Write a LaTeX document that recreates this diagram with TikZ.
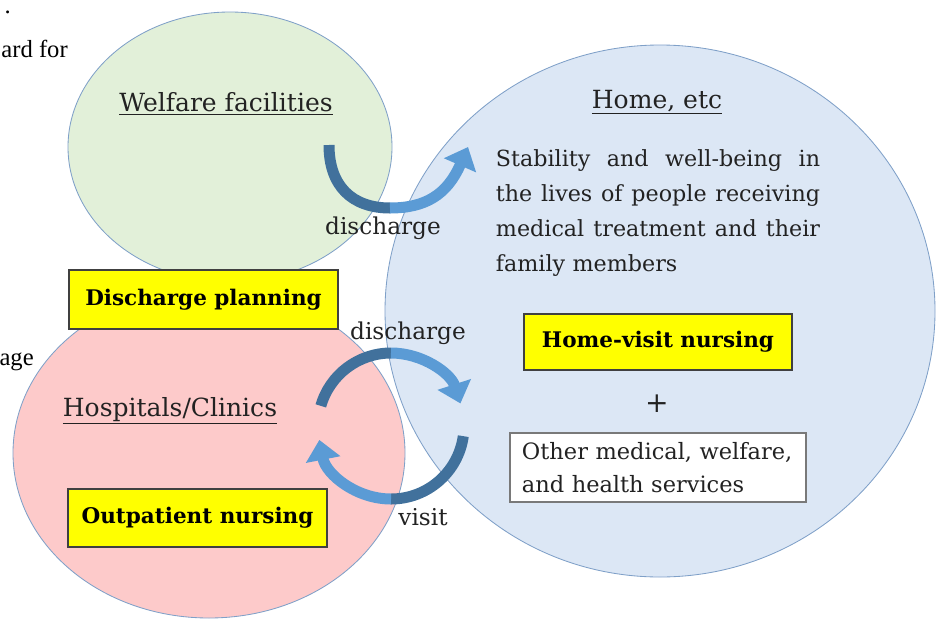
\documentclass[tikz,border=0pt]{standalone}
\usepackage{fontspec}
\setmainfont{DejaVu Serif}
\newfontfamily\pagefont{Liberation Serif}
\usetikzlibrary{arrows.meta}

\definecolor{welfgreen}{HTML}{E2F0D9}
\definecolor{hospred}{HTML}{FDCACA}
\definecolor{homeblue}{HTML}{DCE7F5}
\definecolor{rimblue}{HTML}{7FA0C8}
\definecolor{arrowdark}{HTML}{41719C}
\definecolor{arrowlight}{HTML}{5B9BD5}
\definecolor{taskyellow}{HTML}{FFFF00}
\definecolor{boxline}{HTML}{404040}
\definecolor{inktext}{HTML}{222222}

\newcommand{\spreadline}[1]{\makebox[8.1cm][s]{\spaceskip=0.32em plus 1em #1}}

\tikzset{
  area/.style={draw=rimblue, line width=0.6pt},
  pagetext/.style={font=\pagefont\fontsize{17.5}{20}\selectfont, inner sep=0pt, anchor=base east},
  heading/.style={font=\fontsize{17.8}{20}\selectfont, text=inktext, inner sep=0pt},
  flowlabel/.style={font=\fontsize{16.5}{19}\selectfont, text=inktext, inner sep=0pt},
  taskbox/.style={draw=boxline, fill=taskyellow, line width=0.8pt, inner sep=0pt,
    font=\fontsize{15.3}{18}\selectfont\bfseries},
  otherbox/.style={draw=boxline!70, fill=white, line width=0.8pt, inner xsep=0.3cm,
    minimum width=7.4cm, minimum height=1.725cm, text width=6.8cm, align=left,
    font=\fontsize{16}{24}\selectfont, text=inktext},
  darkflow/.style={draw=arrowdark, line width=0.275cm},
  lightflow/.style={draw=arrowlight, line width=0.275cm,
    -{Triangle[length=0.5cm, width=0.85cm]}},
}

\begin{document}
\begin{tikzpicture}[x=0.025cm, y=-0.025cm]
    \useasboundingbox (0,0) rectangle (946,619);
    % the three places
    \draw[area, fill=welfgreen] (230,147) ellipse [x radius=162, y radius=135];
    \draw[area, fill=hospred] (209,453) ellipse [x radius=196, y radius=165];
    \draw[area, fill=homeblue] (660,311) ellipse [x radius=275, y radius=266];

    % page text cut at the left edge
    \node[pagetext] (cutdot) at (11,13) {.};
    \node[pagetext] (cutfor) at (68,57) {ard for};
    \node[pagetext] (cutage) at (34,365) {age};

    \node[heading] (welf) at (226,104) {\underline{Welfare facilities}};
    \node[heading] (home) at (657,102) {\underline{Home, etc}};
    \node[heading] (hosp) at (170,411) {\underline{Hospitals/Clinics}};

    \node[text width=8.1cm, align=left, inner sep=0pt, text=inktext,
          font=\fontsize{15.8}{24.8}\selectfont] (goal) at (658,213)
        {\spreadline{Stability and well-being in}\\
         \spreadline{the lives of people receiving}\\
         \spreadline{medical treatment and their}\\
         family members};

    \node[taskbox, minimum width=6.725cm, minimum height=1.475cm] (plan) at (203.5,299.5) {Discharge planning};
    \node[taskbox, minimum width=6.7cm, minimum height=1.4cm] (visitnurse) at (658,342) {Home-visit nursing};
    \node[taskbox, minimum width=6.475cm, minimum height=1.45cm] (outnurse) at (197.5,518) {Outpatient nursing};
    \node[font=\fontsize{20}{22}\selectfont, text=inktext, inner sep=0pt] (plus) at (657,404) {+};
    \node[otherbox] (other) at (658,467.5) {Other medical, welfare,\\and health services};

    % welfare facilities -> home
    \coordinate (wout) at (329,145);
    \coordinate (wlow) at (390,208);
    \coordinate (win) at (468,147);
    \draw[darkflow] (wout) .. controls (329,186) and (352,208) .. (wlow);
    \draw[lightflow] (wlow) .. controls (425,208) and (447,195) .. (win);

    % hospital <-> home
    \coordinate (cyc) at (391,426);
    \draw[darkflow] (cyc) ++(196:73) arc[start angle=196, end angle=270, radius=73];
    \draw[lightflow] (cyc) ++(270:73) arc[start angle=270, end angle=342, radius=73];
    \draw[darkflow] (cyc) ++(8:73) arc[start angle=8, end angle=90, radius=73];
    \draw[lightflow] (cyc) ++(90:73) arc[start angle=90, end angle=169, radius=73];

    \node[flowlabel] (dis1) at (383,228) {discharge};
    \node[flowlabel] (dis2) at (408,333) {discharge};
    \node[flowlabel] (visit) at (423,517) {visit};
\end{tikzpicture}
\end{document}
